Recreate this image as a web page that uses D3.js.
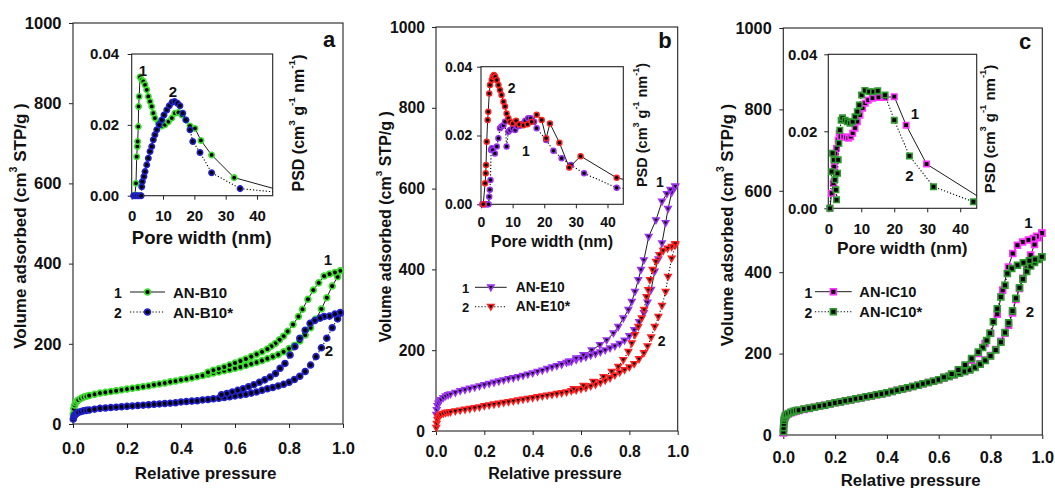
<!DOCTYPE html>
<html><head><meta charset="utf-8">
<script src="https://cdn.jsdelivr.net/npm/d3@7"></script>
<style>
body{margin:0;background:#fff}
svg{display:block}
text{font-family:"Liberation Sans",Arial,sans-serif;font-weight:bold;fill:#111}
</style>
</head><body>
<svg id="chart" width="1055" height="488"></svg>
<script>
// ===================== DATA =====================
// tick values
const isoXTicks = [0, 0.2, 0.4, 0.6, 0.8, 1.0];
const isoYTicks = [0, 200, 400, 600, 800, 1000];
const psdXTicks = [0, 10, 20, 30, 40];
const psdYTicks = [0, 0.02, 0.04];

// ---- Panel a : AN-B10 (1), AN-B10* (2) ----
const pAdsA = [0.001,0.003,0.006,0.01,0.015,0.02,0.03,0.04,0.05,0.06,0.08,0.10,0.12,0.14,0.16,0.18,0.20,0.22,0.24,0.26,0.28,0.30,0.32,0.34,0.36,0.38,0.40,0.42,0.44,0.46,0.48,0.50,0.52,0.54,0.56,0.58,0.60,0.62,0.64,0.66,0.68,0.70,0.72,0.74,0.76,0.78,0.80,0.82,0.84,0.86,0.88,0.90,0.92,0.94,0.96,0.98,0.99];
const vAdsA1 = [25,38,47,53,57,60,64,67,69,71,74,77,79,81,83,85,87,89,91,93,95,98,100,102,105,107,110,112,115,118,121,124,127,130,133,136,139,142,146,150,154,158,163,168,173,180,188,196,207,222,240,262,287,315,344,367,382];
const pDesA1 = [0.99,0.97,0.95,0.93,0.91,0.89,0.87,0.85,0.835,0.815,0.795,0.78,0.765,0.75,0.735,0.72,0.70,0.68,0.66,0.64,0.62,0.60,0.58,0.56,0.54,0.52,0.50];
const vDesA1 = [382,378,374,369,352,334,311,286,268,248,231,219,210,201,194,187,180,174,168,162,157,152,147,142,138,134,129];
const vAdsA2 = [12,18,22,25,27,29,31,33,34,35,37,39,40,41,42,43,44,45,46,47,48,49,50,51,52,53,55,56,57,58,60,61,63,64,66,68,70,72,74,77,80,84,88,91,95,99,104,111,119,131,147,168,190,214,240,262,276];
const pDesA2 = [0.99,0.97,0.95,0.93,0.915,0.895,0.878,0.86,0.84,0.822,0.804,0.785,0.767,0.75,0.73,0.71,0.69,0.67,0.65,0.63,0.61,0.59,0.57,0.55];
const vDesA2 = [278,274,269,268,264,258,251,234,214,193,172,151,139,126,117,110,104,98,93,88,84,80,76,73];
const wA1 = [1.05,1.37,1.6,1.8,1.9,2.1,2.2,2.4,2.65,3.2,3.7,4.25,4.8,5.3,5.85,6.4,6.9,7.4,8.5,9.6,10.6,11.7,12.8,13.8,14.9,16,17.3,18.6,20.2,22.1,25.5,32.7,52];
const psdA1 = [0.0002,0.0035,0.011,0.0139,0.0153,0.0195,0.0252,0.028,0.0335,0.0327,0.0323,0.0313,0.0299,0.028,0.0266,0.0252,0.0233,0.0219,0.0205,0.0197,0.02,0.0209,0.0219,0.0233,0.0235,0.0228,0.0214,0.0197,0.019,0.0156,0.0115,0.0051,0.0004];
const wA2 = [0.6,1.2,1.8,2.4,3.0,3.2,3.4,3.9,4.25,4.8,5.3,5.85,6.4,6.9,7.4,8,8.8,9.6,10.3,11.2,12,12.9,13.7,14.6,15.4,16.3,17.3,18.6,19.5,21.8,25.5,34.6,56];
const psdA2 = [0,0,0,0,0,0.0025,0.004,0.0054,0.0068,0.0087,0.0106,0.0125,0.0139,0.0158,0.0172,0.0186,0.02,0.0214,0.0228,0.0242,0.0254,0.0264,0.0266,0.0261,0.0254,0.0233,0.0214,0.0186,0.0153,0.0122,0.0065,0.002,0.00015];

// ---- Panel b : AN-E10 (1), AN-E10* (2) ----
const pAdsB = [0.001,0.003,0.006,0.01,0.015,0.02,0.03,0.04,0.05,0.06,0.08,0.10,0.12,0.14,0.16,0.18,0.20,0.22,0.24,0.26,0.28,0.30,0.32,0.34,0.36,0.38,0.40,0.42,0.44,0.46,0.48,0.50,0.52,0.54,0.56,0.58,0.60,0.62,0.64,0.66,0.68,0.70,0.72,0.74,0.76,0.78,0.80,0.82,0.84,0.86,0.875,0.89,0.905,0.92,0.935,0.95,0.96,0.975,0.99];
const vAdsB1 = [40,52,62,68,73,77,82,86,89,91,95,99,102,105,108,111,114,117,120,123,126,129,131,134,137,140,143,147,150,154,158,161,165,169,172,176,180,183,187,191,195,200,205,210,216,224,235,250,270,292,318,350,395,425,465,515,550,590,605];
const pDesB1 = [0.99,0.97,0.955,0.935,0.91,0.88,0.86,0.848,0.837,0.823,0.81,0.796,0.775,0.754,0.734,0.706,0.678,0.644,0.61,0.58,0.55,0.52];
const vDesB1 = [605,597,587,568,522,481,423,399,374,345,320,300,279,258,242,225,213,200,188,180,172,165];
const vAdsB2 = [8,18,28,34,38,41,43,45,46,47,49,51,53,55,57,59,62,64,66,68,70,72,74,76,78,80,82,84,86,88,90,92,94,96,99,101,104,107,111,115,120,125,131,138,145,151,158,166,178,193,210,232,258,283,310,345,382,427,460];
const pDesB2 = [0.99,0.975,0.958,0.94,0.924,0.91,0.896,0.885,0.878,0.871,0.861,0.851,0.837,0.823,0.81,0.796,0.775,0.754,0.727,0.693,0.651,0.61,0.57];
const vDesB2 = [463,456,452,446,436,419,399,374,349,332,300,279,258,238,217,196,176,159,147,134,122,112,104];
const wB1 = [0.4,0.8,1.2,1.6,2.0,2.4,2.6,2.8,3.0,3.2,3.4,3.7,4.4,5,5.5,6,6.5,7.1,7.6,8.1,8.65,9.2,10,10.8,11.5,12.3,13.2,14,14.9,15.7,16.8,17.6,20.6,22.9,25.5,28.4,32.6,42.9,50];
const psdB1 = [0,0,0,0,0,0,0.0022,0.0042,0.0071,0.0158,0.0163,0.0158,0.0148,0.0168,0.0192,0.0221,0.0226,0.023,0.024,0.0168,0.0211,0.0216,0.0221,0.0216,0.0226,0.0228,0.0235,0.0243,0.025,0.025,0.024,0.0221,0.0187,0.0156,0.0134,0.0114,0.009,0.0048,0.0042];
const wB2 = [0.7,1.3,1.5,1.6,1.8,2.1,2.3,2.6,2.85,3.4,3.7,4.1,4.5,5,5.5,6,6.5,7.1,7.6,8.1,8.65,9.2,10,11.1,12.1,13.4,14.7,16,17.6,19.2,20.6,21.8,24.8,27.9,31.5,42.9,50];
const psdB2 = [0,0.0061,0.009,0.0114,0.0182,0.0245,0.0269,0.0322,0.0347,0.0361,0.0371,0.0376,0.0371,0.0361,0.0347,0.0332,0.0318,0.0298,0.0284,0.0264,0.025,0.024,0.0235,0.0243,0.0233,0.023,0.0233,0.024,0.026,0.0245,0.0192,0.0235,0.0179,0.0107,0.014,0.0077,0.0062];

// ---- Panel c : AN-IC10 (1), AN-IC10* (2) ----
const pAdsC = [0.0005,0.001,0.002,0.003,0.005,0.008,0.012,0.02,0.03,0.04,0.05,0.06,0.08,0.10,0.12,0.14,0.16,0.18,0.20,0.22,0.24,0.26,0.28,0.30,0.32,0.34,0.36,0.38,0.40,0.42,0.44,0.46,0.48,0.50,0.52,0.54,0.56,0.58,0.60,0.62,0.64,0.66,0.68,0.70,0.72,0.74,0.76,0.78,0.80,0.82,0.84,0.856,0.87,0.885,0.898,0.912,0.925,0.94,0.955,0.97,0.985,0.998];
const vAdsC1 = [5,15,25,33,40,45,49,52,55,57,59,60,63,65,68,71,73,76,79,81,84,86,89,91,94,96,99,101,104,107,110,113,116,119,122,126,129,132,136,140,144,148,152,156,161,167,175,184,195,210,230,250,270,300,333,360,385,412,442,468,485,496];
const pDesC1 = [0.998,0.978,0.965,0.946,0.924,0.904,0.886,0.869,0.847,0.826,0.801,0.779,0.753,0.727,0.702,0.676,0.65,0.62];
const vDesC1 = [496,488,483,479,474,466,446,413,356,297,250,225,200,184,168,156,148,141];
const vAdsC2 = [8,18,28,36,42,47,50,53,56,58,60,61,64,66,68,71,73,76,79,81,84,86,89,91,94,96,99,101,104,107,110,113,116,119,122,126,129,132,136,140,144,148,152,156,160,166,174,183,194,209,228,252,276,305,336,362,383,402,415,424,431,438];
const pDesC2 = [0.998,0.972,0.95,0.927,0.904,0.882,0.865,0.856,0.84,0.826,0.811,0.798,0.785,0.77,0.753,0.727,0.702,0.676,0.65,0.62];
const vDesC2 = [438,431,428,423,417,409,397,368,339,310,278,250,232,215,204,188,172,160,150,142];
const wC1 = [0.5,1,1.5,1.8,2.1,2.5,3,3.3,3.7,4.6,5.4,6.1,6.8,7.4,8.1,8.8,9.6,10.4,11.2,12.1,13.4,15.2,17.2,20,23.6,29.8,50];
const psdC1 = [0,0.0039,0.0065,0.0108,0.0143,0.0156,0.0177,0.0195,0.0186,0.0186,0.0184,0.0182,0.0186,0.0195,0.0208,0.0225,0.0242,0.026,0.0273,0.0281,0.0286,0.0288,0.0288,0.029,0.0216,0.0115,0.0006];
const wC2 = [0.5,1,1.3,1.7,2,2.3,2.5,2.8,3,3.2,3.5,3.9,4.3,5.1,5.8,6.6,7.4,8.1,8.8,9.4,10.1,11.1,12.4,13.7,15,17.2,20,24.6,31.9,44];
const psdC2 = [0,0.0095,0.0143,0.0126,0.0074,0.0048,0.0022,0.0091,0.0126,0.0169,0.0203,0.0229,0.0235,0.0229,0.0225,0.0221,0.0225,0.0238,0.0251,0.0268,0.0294,0.0306,0.0303,0.0303,0.0305,0.0294,0.0229,0.0136,0.0056,0.0017];

const sampleNames = [["AN-B10","AN-B10*"],["AN-E10","AN-E10*"],["AN-IC10","AN-IC10*"]];
const panelLetters = ["a","b","c"];

// ===================== LAYOUT / STYLE =====================
const zip = (a, b) => a.map((d, i) => [d, b[i]]);
const panels = [
  {
    letter: panelLetters[0], names: sampleNames[0], shape: "circle",
    colors: ["#3ddc2e", "#2222c8"],
    iso: [zip(pAdsA, vAdsA1).concat(zip(pDesA1, vDesA1)), zip(pAdsA, vAdsA2).concat(zip(pDesA2, vDesA2))],
    psd: [zip(wA1, psdA1), zip(wA2, psdA2)], psdDash: [false, true],
    main: {x: [73, 343], y: [424, 23], fs: 16.5, xPad: 14, yPad: 7.5, titleFs: 17,
           xt: [205.7, 473], yt: [20, 226]},
    inset: {x: [131.7, 272.7], y: [195.7, 54], fs: 15, xPad: 10.5, yPad: 8.5, titleFs: 18.5,
            xt: [201.7, 237], yt: [297.7, 123], psdFs: 16},
    letterPos: [329, 39], legend: {x: 118, y: [292, 312], l0: 130, l1: 165, fs: 15, nfs: 14, tx: 173},
    notes: [["1", 328, 259], ["2", 329, 350], ["1", 143, 70], ["2", 173, 91]], noteFs: 15, msize: 2.9, misize: 2.7
  },
  {
    letter: panelLetters[1], names: sampleNames[1], shape: "tri",
    colors: ["#9a32f0", "#ff2020"],
    iso: [zip(pAdsB, vAdsB1).concat(zip(pDesB1, vDesB1)), zip(pAdsB, vAdsB2).concat(zip(pDesB2, vDesB2))],
    psd: [zip(wB1, psdB1), zip(wB2, psdB2)], psdDash: [true, false], psdCircle: true,
    main: {x: [436, 677.7], y: [431, 27], fs: 15.7, xPad: 11, yPad: 7, titleFs: 16,
           xt: [555, 473], yt: [385, 226.7]},
    inset: {x: [481, 623.3], y: [204.3, 66.7], fs: 14, xPad: 8.4, yPad: 4.7, titleFs: 16.2,
            xt: [552, 240.7], yt: [641.7, 125], psdFs: 14.5},
    letterPos: [665, 40], legend: {x: 465.7, y: [287.3, 306.7], l0: 475, l1: 506.7, fs: 13.8, nfs: 13, tx: 515.7},
    notes: [["1", 660, 181.7], ["2", 661.7, 340.7], ["2", 511.7, 88.3], ["1", 526, 150.7]], noteFs: 14, msize: 2.7, misize: 2.5
  },
  {
    letter: panelLetters[2], names: sampleNames[2], shape: "square",
    colors: ["#ff33ff", "#2f9a2f"],
    iso: [zip(pAdsC, vAdsC1).concat(zip(pDesC1, vDesC1)), zip(pAdsC, vAdsC2).concat(zip(pDesC2, vDesC2))],
    psd: [zip(wC1, psdC1), zip(wC2, psdC2)], psdDash: [false, true],
    main: {x: [783.3, 1042.3], y: [435, 28], fs: 16.3, xPad: 12, yPad: 7.6, titleFs: 16.8,
           xt: [910.7, 479.5], yt: [727.3, 225]},
    inset: {x: [828.3, 976.7], y: [208.3, 54.3], fs: 15, xPad: 11.5, yPad: 7, titleFs: 17.3,
            xt: [902.3, 248.3], yt: [989.3, 129], psdFs: 15},
    letterPos: [1025, 41.7], legend: {x: 808.3, y: [291.7, 311.7], l0: 815, l1: 851.7, fs: 14.7, nfs: 14, tx: 859.3},
    notes: [["1", 1028.3, 222.7], ["2", 1030, 311.7], ["1", 915, 113.3], ["2", 909.3, 175]], noteFs: 15, msize: 2.9, misize: 2.7
  }
];

// ===================== DRAW =====================
const svg = d3.select("#chart");

function shapePath(shape, s) {
  if (shape === "circle") return `M${s},0A${s},${s} 0 1,1 ${-s},0A${s},${s} 0 1,1 ${s},0Z`;
  if (shape === "tri") { const a = s * 1.15; return `M${-a},${-s * 0.8}L${a},${-s * 0.8}L0,${s * 1.2}Z`; }
  return `M${-s},${-s}L${s},${-s}L${s},${s}L${-s},${s}Z`;
}

function richText(g, x, y, parts, fs, rotate) {
  const t = g.append("text").attr("x", x).attr("y", y).attr("font-size", fs)
    .attr("text-anchor", "middle").attr("dominant-baseline", "central");
  if (rotate) t.attr("transform", `rotate(-90,${x},${y})`);
  let up = false;
  parts.forEach(p => {
    const sup = p[1] === 1;
    const ts = t.append("tspan").text(p[0]);
    if (sup) { ts.attr("font-size", fs * 0.62).attr("dy", -fs * 0.42); up = true; }
    else if (up) { ts.attr("dy", fs * 0.42); up = false; }
  });
  return t;
}

function plainText(g, x, y, s, fs, anchor) {
  return g.append("text").attr("x", x).attr("y", y).attr("font-size", fs)
    .attr("text-anchor", anchor || "middle").attr("dominant-baseline", "central").text(s);
}

function drawAxes(g, x, y, xt, yt, xf, yf, L) {
  const [x0, x1] = x.range(), [y0, y1] = y.range();
  g.append("rect").attr("x", x0).attr("y", y1).attr("width", x1 - x0).attr("height", y0 - y1)
    .attr("fill", "none").attr("stroke", "#222").attr("stroke-width", 1.1);
  const ax = g.append("g").attr("transform", `translate(0,${y0})`)
    .call(d3.axisBottom(x).tickValues(xt).tickFormat(xf).tickSize(4).tickSizeOuter(0).tickPadding(L.xPad));
  const ay = g.append("g").attr("transform", `translate(${x0},0)`)
    .call(d3.axisLeft(y).tickValues(yt).tickFormat(yf).tickSize(4).tickSizeOuter(0).tickPadding(L.yPad));
  [ax, ay].forEach(a => {
    a.select(".domain").remove();
    a.attr("font-size", L.fs).attr("font-family", '"Liberation Sans",Arial,sans-serif')
      .attr("font-weight", "bold").attr("color", "#222");
    a.selectAll("text").style("fill", "#111");
  });
}

function drawSeries(g, x, y, pts, color, shape, dashed, ms) {
  const line = d3.line().x(d => x(d[0])).y(d => y(d[1]));
  g.append("path").datum(pts).attr("d", line).attr("fill", "none").attr("stroke", "#000")
    .attr("stroke-width", dashed ? 1.1 : 0.9).attr("stroke-dasharray", dashed ? "1.2,2" : null);
  g.selectAll(null).data(pts).join("path")
    .attr("d", shapePath(shape, ms))
    .attr("transform", d => `translate(${x(d[0])},${y(d[1])})`)
    .attr("fill", "#000").attr("stroke", color).attr("stroke-width", ms * 0.6);
}

panels.forEach((P, pi) => {
  const g = svg.append("g");
  const M = P.main, I = P.inset;

  // ---------- main isotherm ----------
  const x = d3.scaleLinear().domain([0, 1]).range(M.x);
  const y = d3.scaleLinear().domain([0, 1000]).range(M.y);
  drawAxes(g, x, y, isoXTicks, isoYTicks, d3.format(".1f"), d3.format("d"), M);
  const clipM = "clipM" + pi;
  g.append("clipPath").attr("id", clipM).append("rect")
    .attr("x", M.x[0] - 6).attr("y", M.y[1]).attr("width", M.x[1] - M.x[0] + 12).attr("height", M.y[0] - M.y[1] + 6);
  const gm = g.append("g").attr("clip-path", `url(#${clipM})`);
  P.iso.forEach((pts, si) => drawSeries(gm, x, y, pts, P.colors[si], P.shape, si === 1, P.msize));

  richText(g, M.xt[0], M.xt[1], [["Relative pressure", 0]], M.titleFs, false);
  richText(g, M.yt[0], M.yt[1], [["Volume adsorbed (cm", 0], ["3", 1], [" STP/g )", 0]], M.titleFs, true);

  // ---------- inset PSD ----------
  const xi = d3.scaleLinear().domain([0, 45]).range(I.x);
  const yi = d3.scaleLinear().domain([0, 0.04]).range(I.y);
  drawAxes(g, xi, yi, psdXTicks, psdYTicks, d3.format("d"), d3.format(".2f"), I);
  const clipI = "clipI" + pi;
  g.append("clipPath").attr("id", clipI).append("rect")
    .attr("x", I.x[0] - 5).attr("y", I.y[1]).attr("width", I.x[1] - I.x[0] + 5).attr("height", I.y[0] - I.y[1] + 5);
  const gi = g.append("g").attr("clip-path", `url(#${clipI})`);
  const ishape = P.psdCircle ? "circle" : P.shape;
  P.psd.forEach((pts, si) => drawSeries(gi, xi, yi, pts, P.colors[si], ishape, P.psdDash[si], P.misize));

  richText(g, I.xt[0], I.xt[1], [["Pore width (nm)", 0]], I.titleFs, false);
  richText(g, I.yt[0], I.yt[1], [["PSD (cm", 0], ["3", 1], [" g", 0], ["-1", 1], [" nm", 0], ["-1", 1], [")", 0]], I.psdFs, true);

  // ---------- legend ----------
  const Lg = P.legend;
  [0, 1].forEach(si => {
    const yy = Lg.y[si];
    plainText(g, Lg.x, yy + 1, String(si + 1), Lg.nfs);
    g.append("line").attr("x1", Lg.l0).attr("x2", Lg.l1).attr("y1", yy).attr("y2", yy)
      .attr("stroke", "#000").attr("stroke-width", si === 1 ? 1.1 : 0.9)
      .attr("stroke-dasharray", si === 1 ? "1.2,2" : null);
    g.append("path").attr("d", shapePath(P.shape, P.msize))
      .attr("transform", `translate(${(Lg.l0 + Lg.l1) / 2},${yy})`)
      .attr("fill", "#000").attr("stroke", P.colors[si]).attr("stroke-width", P.msize * 0.6);
    plainText(g, Lg.tx, yy, P.names[si], Lg.fs, "start");
  });

  // ---------- annotations ----------
  plainText(g, P.letterPos[0], P.letterPos[1], P.letter, 22);
  P.notes.forEach(n => plainText(g, n[1], n[2], n[0], P.noteFs));
});
</script>
</body></html>
